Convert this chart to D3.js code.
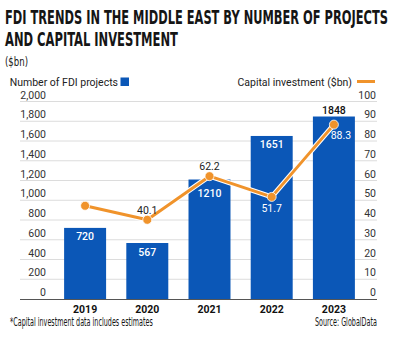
<!DOCTYPE html>
<html>
<head>
<meta charset="utf-8">
<script src="https://cdn.jsdelivr.net/npm/d3@7"></script>
<style>
  html, body { margin: 0; padding: 0; background: #fff; }
  svg { display: block; }
</style>
</head>
<body>
<div id="chart"></div>
<script>
// data
const years = ['2019', '2020', '2021', '2022', '2023'];
const projects = [720, 567, 1210, 1651, 1848];
const capital = [47.2, 40.1, 62.2, 51.7, 88.3];
const capitalLabels = [null, '40.1', '62.2', '51.7', '88.3'];
const leftTicks = [0, 200, 400, 600, 800, 1000, 1200, 1400, 1600, 1800, 2000];
const rightTicks = [0, 10, 20, 30, 40, 50, 60, 70, 80, 90, 100];

const W = 400, H = 338;
const BLUE = '#0b57b7', ORANGE = '#f0932b';
const narrow = '"Liberation Sans Narrow", "DejaVu Sans Condensed", "Roboto Condensed", sans-serif';
const body = 'Roboto, "Noto Sans", sans-serif';

const svg = d3.select('#chart').append('svg')
    .attr('width', W).attr('height', H);

// squeeze a narrow-font text horizontally so it spans `width` px from x (or ends at x)
function condensed(x, y, width, size, weight, txt, anchorEnd) {
    const t = svg.append('text').attr('x', 0).attr('y', 0)
        .attr('font-family', narrow).attr('font-weight', weight).attr('font-size', size)
        .attr('fill', '#151515').text(txt);
    const natural = t.node().getComputedTextLength();
    const k = width / natural;
    const left = anchorEnd ? x - width : x;
    t.attr('transform', `translate(${left},${y}) scale(${k},1)`);
    return t;
}

/* ---- titles ---- */
condensed(5, 24, 383, 20, 'bold', 'FDI TRENDS IN THE MIDDLE EAST BY NUMBER OF PROJECTS');
condensed(5, 46, 173, 20, 'bold', 'AND CAPITAL INVESTMENT');
condensed(5, 66, 23, 12, 'normal', '($bn)');

/* ---- legend ---- */
svg.append('text').attr('x', 118).attr('y', 85.5).attr('text-anchor', 'end')
    .attr('font-family', body).attr('font-size', 10.5).attr('fill', '#222')
    .text('Number of FDI projects');
svg.append('rect').attr('x', 120.5).attr('y', 77.5).attr('width', 8.5).attr('height', 8.5)
    .attr('fill', BLUE);
svg.append('text').attr('x', 352).attr('y', 85.5).attr('text-anchor', 'end')
    .attr('font-family', body).attr('font-size', 10.5).attr('fill', '#222')
    .text('Capital investment ($bn)');
svg.append('line').attr('x1', 357).attr('x2', 375).attr('y1', 81.5).attr('y2', 81.5)
    .attr('stroke', ORANGE).attr('stroke-width', 3);

/* ---- scales ---- */
const x = d3.scaleBand().domain(years).range([54, 365])
    .paddingInner(0.325).paddingOuter(0.1625);
const yL = d3.scaleLinear().domain([0, 2000]).range([299, 101.5]);
const yR = d3.scaleLinear().domain([0, 100]).range([299, 101.5]);

/* ---- grid + axes ---- */
const grid = svg.append('g');
grid.selectAll('line').data(leftTicks.slice(1)).join('line')
    .attr('x1', 20).attr('x2', 377)
    .attr('y1', d => yL(d)).attr('y2', d => yL(d))
    .attr('stroke', '#dcdcdc').attr('stroke-width', 1);

const leftAxis = svg.append('g').attr('transform', 'translate(46,-3.5)')
    .call(d3.axisLeft(yL).tickValues(leftTicks).tickSize(0).tickPadding(0)
        .tickFormat(d3.format(',')));
const rightAxis = svg.append('g').attr('transform', 'translate(376,-3.5)')
    .call(d3.axisLeft(yR).tickValues(rightTicks).tickSize(0).tickPadding(0));
[leftAxis, rightAxis].forEach(a => {
    a.select('.domain').remove();
    a.selectAll('text').attr('font-family', body).attr('font-size', 10.5)
        .attr('fill', '#333').attr('dy', 0);
});

/* ---- bars ---- */
svg.append('g').selectAll('rect').data(projects).join('rect')
    .attr('x', (d, i) => x(years[i]))
    .attr('width', x.bandwidth())
    .attr('y', d => yL(d))
    .attr('height', d => yL(0) - yL(d))
    .attr('fill', BLUE);

svg.append('line').attr('x1', 20).attr('x2', 377).attr('y1', 299.5).attr('y2', 299.5)
    .attr('stroke', '#555').attr('stroke-width', 1);

const xAxis = svg.append('g').attr('transform', 'translate(0,299)')
    .call(d3.axisBottom(x).tickSize(0).tickPadding(0));
xAxis.select('.domain').remove();
xAxis.selectAll('text').attr('font-family', body).attr('font-size', 10.5)
    .attr('font-weight', 'bold').attr('fill', '#111').attr('y', 14).attr('dy', 0);

// bar value labels: last one sits above its bar, 2021 nudged down clear of the line
svg.append('g').selectAll('text').data(projects).join('text')
    .attr('x', (d, i) => x(years[i]) + x.bandwidth() / 2)
    .attr('y', (d, i) => i === 4 ? yL(d) - 3 : yL(d) + (i === 2 ? 17.5 : 12.5))
    .attr('text-anchor', 'middle')
    .attr('font-family', body).attr('font-size', 10.5).attr('font-weight', 500)
    .attr('fill', (d, i) => i === 4 ? '#111' : '#fff')
    .text(d => d);

/* ---- capital investment line ---- */
const cx = i => x(years[i]) + x.bandwidth() / 2;
const line = d3.line().x((d, i) => cx(i)).y(d => yR(d));
svg.append('path').datum(capital).attr('d', line)
    .attr('fill', 'none').attr('stroke', '#fff').attr('stroke-width', 5)
    .attr('stroke-linejoin', 'round');
svg.append('path').datum(capital).attr('d', line)
    .attr('fill', 'none').attr('stroke', ORANGE).attr('stroke-width', 3)
    .attr('stroke-linejoin', 'round');
svg.append('g').selectAll('circle').data(capital).join('circle')
    .attr('cx', (d, i) => cx(i)).attr('cy', d => yR(d)).attr('r', 4.5)
    .attr('fill', ORANGE).attr('stroke', '#fff').attr('stroke-width', 0.8);

// line labels: above for 2020/2021, below (white) for 2022/2023
const pts = capital.map((v, i) => ({ v, i, label: capitalLabels[i] }))
    .filter(p => p.label !== null);
svg.append('g').selectAll('text').data(pts).join('text')
    .attr('x', p => cx(p.i) + (p.i === 4 ? 7 : 0))
    .attr('y', p => p.i >= 3 ? yR(p.v) + (p.i === 4 ? 14 : 15.5) : yR(p.v) - 6)
    .attr('text-anchor', 'middle')
    .attr('font-family', body).attr('font-size', 10.5)
    .attr('fill', p => p.i >= 3 ? '#fff' : '#222')
    .text(p => p.label);

/* ---- footer ---- */
condensed(10, 326, 143, 11.5, 'normal', '*Capital investment data includes estimates');
condensed(377, 326, 62, 11.5, 'normal', 'Source: GlobalData', true);
</script>
</body>
</html>
